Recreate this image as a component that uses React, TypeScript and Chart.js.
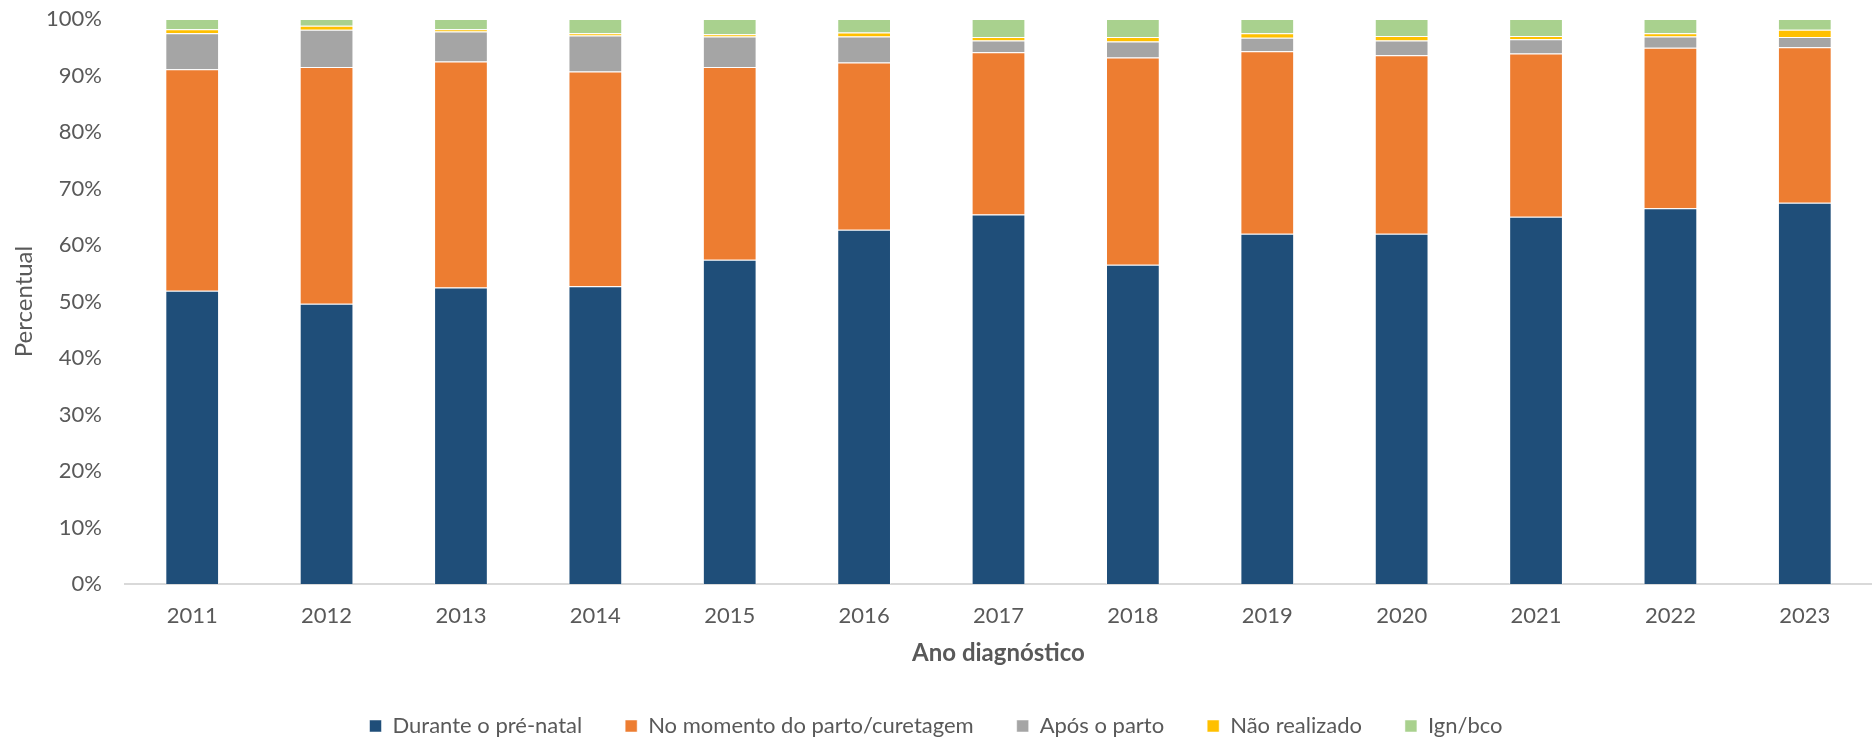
import React, { useEffect, useRef } from "react";
import { Chart, registerables } from "chart.js";

Chart.register(...registerables);

const categories = ["2011", "2012", "2013", "2014", "2015", "2016", "2017", "2018", "2019", "2020", "2021", "2022", "2023"];
const seriesNames = ["Durante o pré-natal", "No momento do parto/curetagem", "Após o parto", "Não realizado", "Ign/bco"];
const duranteValues = [51.9, 49.6, 52.5, 52.7, 57.4, 62.7, 65.4, 56.5, 62.0, 62.0, 65.0, 66.5, 67.5];
const partoValues = [39.2, 41.9, 40.0, 38.0, 34.1, 29.6, 28.7, 36.7, 32.3, 31.6, 28.9, 28.4, 27.5];
const aposValues = [6.4, 6.6, 5.3, 6.4, 5.4, 4.6, 2.1, 2.8, 2.4, 2.6, 2.5, 2.0, 1.8];
const naoValues = [0.7, 0.7, 0.4, 0.4, 0.4, 0.7, 0.6, 0.8, 0.8, 0.8, 0.6, 0.6, 1.3];
const ignValues = [1.8, 1.2, 1.8, 2.5, 2.7, 2.4, 3.2, 3.2, 2.5, 3.0, 3.0, 2.5, 1.9];
const colors = ["#1F4E79", "#ED7D31", "#A5A5A5", "#FFC000", "#A9D18E"];
const yTicks = [0, 10, 20, 30, 40, 50, 60, 70, 80, 90, 100];

const FONT = "Lato, 'Open Sans', sans-serif";
const TEXT = "#595959";

export default function App() {
  const ref = useRef<HTMLCanvasElement | null>(null);
  useEffect(() => {
    if (!ref.current) return;
    const all = [duranteValues, partoValues, aposValues, naoValues, ignValues];
    const chart = new Chart(ref.current, {
      type: "bar",
      data: {
        labels: categories,
        datasets: all.map((vals, i) => ({
          label: seriesNames[i],
          data: vals,
          backgroundColor: colors[i],
          borderColor: "rgba(255,255,255,0.5)",
          borderWidth: 1,
          barPercentage: 0.4,
          categoryPercentage: 1,
        })),
      },
      options: {
        animation: false,
        responsive: false,
        maintainAspectRatio: false,
        layout: { padding: { top: 19, left: 0, right: 0, bottom: -6 } },
        plugins: {
          tooltip: { enabled: false },
          legend: {
            position: "bottom",
            labels: {
              boxWidth: 12,
              boxHeight: 12,
              padding: 43,
              color: TEXT,
              font: { family: FONT, size: 22 },
            },
          },
        },
        scales: {
          x: {
            stacked: true,
            afterFit: (scale: any) => {
              scale.height = 88;
            },
            grid: { display: false, drawTicks: false },
            border: { display: true, color: "#D9D9D9", width: 2 },
            ticks: { color: TEXT, font: { family: FONT, size: 22 }, padding: 19 },
            title: {
              display: true,
              text: "Ano diagnóstico",
              color: TEXT,
              font: { family: FONT, size: 24, weight: "bold" },
              padding: { top: 0, bottom: 4 },
            },
          },
          y: {
            stacked: true,
            min: 0,
            max: 100,
            afterBuildTicks: (scale: any) => {
              scale.ticks = yTicks.map((v) => ({ value: v }));
            },
            afterFit: (scale: any) => {
              scale.width = 125;
              scale.paddingTop = 0;
              scale.paddingBottom = 0;
            },
            grid: { display: false, drawTicks: false },
            border: { display: false },
            ticks: {
              color: TEXT,
              font: { family: FONT, size: 22 },
              padding: 23,
              callback: (v: any) => `${v}%`,
            },
            title: {
              display: true,
              text: "Percentual",
              color: TEXT,
              font: { family: FONT, size: 24 },
              padding: { top: 10, bottom: 0 },
            },
          },
        },
      },
    });
    return () => chart.destroy();
  }, []);
  return (
    <div style={{ position: "fixed", left: 0, top: 0, width: 1872, height: 741, background: "#fff" }}>
      <canvas ref={ref} width={1872} height={741} style={{ display: "block", width: 1872, height: 741 }} />
    </div>
  );
}
